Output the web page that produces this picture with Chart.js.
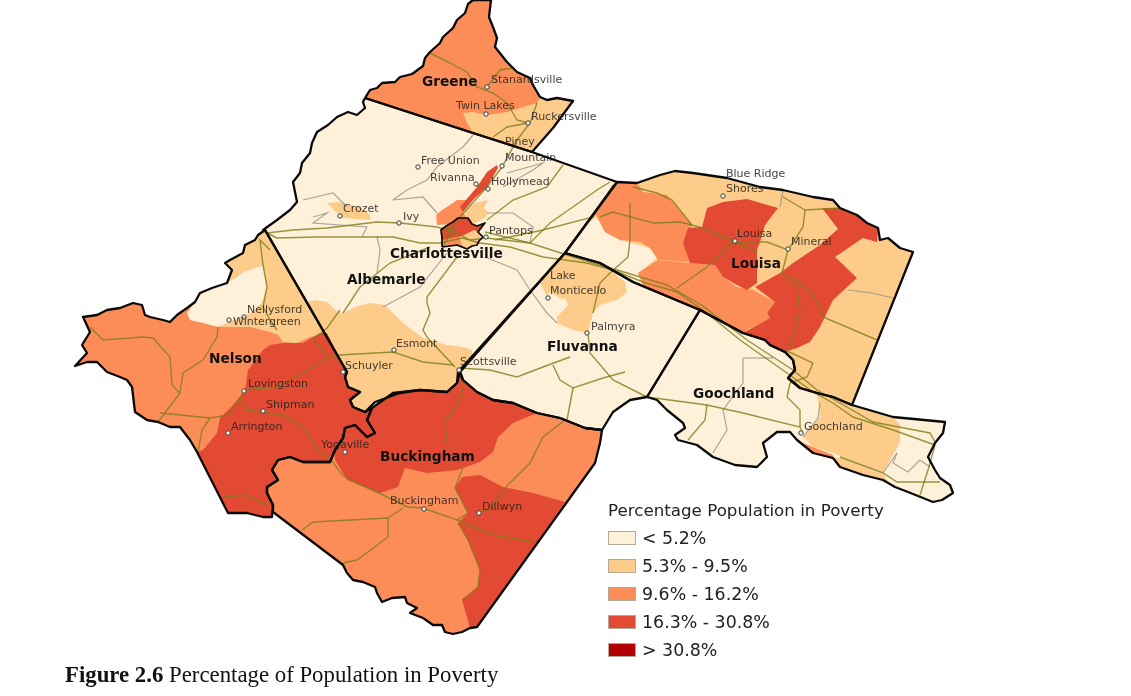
<!DOCTYPE html>
<html>
<head>
<meta charset="utf-8">
<title>Percentage of Population in Poverty</title>
<script src="https://cdn.jsdelivr.net/npm/chart.js@4"></script>
<style>
  html, body { margin: 0; padding: 0; background: #fff; overflow: hidden; }
  #wrap { position: relative; width: 1131px; height: 696px; }
  #mapCanvas { display: block; }
  #legend { position: absolute; left: 608px; top: 498px; font-family: "DejaVu Sans", sans-serif; color: #222; }
  #legend .title { font-size: 16.7px; height: 24px; line-height: 24px; white-space: nowrap; }
  #legend .row { position: absolute; left: 0; height: 14px; white-space: nowrap; }
  #legend .box { position: absolute; left: 0; top: 0; width: 26px; height: 12px; border: 1px solid #b5a99a; }
  #legend .txt { position: absolute; left: 34px; top: -5px; font-size: 17.4px; line-height: 24px; }
  #caption { position: absolute; left: 65px; top: 662px; font-family: "Liberation Serif", serif; font-size: 22.8px; color: #111; white-space: nowrap; }
</style>
</head>
<body>
<div id="wrap">
  <canvas id="mapCanvas" width="1131" height="696"></canvas>
  <div id="legend"></div>
  <div id="caption"><b>Figure 2.6</b> Percentage of Population in Poverty</div>
</div>
<script>
// poverty classes
const classLabels = ["< 5.2%", "5.3% - 9.5%", "9.6% - 16.2%", "16.3% - 30.8%", "> 30.8%"];
const classColors = ["#fef0d9", "#fdcc8a", "#fc8d59", "#e34a33", "#b30000"];

// shared county edges
const greeneWest = [[365,98],[370,90],[377,88],[382,83],[395,82],[400,77],[412,74],[423,66],[425,58],[430,52],[440,43],[443,37],[453,28],[457,20],[465,13],[468,4],[473,0]];
const greeneEast = [[491,0],[489,17],[493,27],[497,38],[495,47],[507,62],[517,72],[530,78],[533,85],[540,97],[547,100],[557,98],[573,101]];
const albemarleWest = [[263,230],[277,220],[290,210],[297,202],[295,192],[293,182],[300,173],[302,163],[310,153],[312,143],[317,132],[328,125],[337,117],[348,112],[357,115],[365,108],[363,102]];
const albemarleSouth = [[458,372],[457,383],[447,392],[420,390],[400,393],[375,402],[365,412],[353,407],[350,400],[360,392],[348,387],[345,377],[347,372]];
const nelsonWest = [[265,230],[258,235],[255,240],[245,245],[243,253],[230,260],[225,263],[232,270],[227,283],[212,288],[200,293],[195,302],[187,308],[177,315],[170,322],[163,320],[150,317],[145,315],[142,305],[133,303],[120,308],[107,310],[97,315],[83,317],[90,332],[82,345],[87,353],[75,366],[87,362],[97,362],[107,372],[120,377],[127,380],[132,387],[135,412],[147,420],[158,422],[170,427],[180,427],[190,440],[197,452]];
const nelsonRiver = [[372,408],[367,420],[375,433],[367,437],[355,425],[345,428],[343,438],[335,450],[330,462],[303,462],[290,457],[278,460],[272,470],[278,480],[267,487],[267,493],[273,505]];
const buckinghamNorth = [[460,372],[463,380],[477,392],[493,400],[513,403],[537,413],[560,418],[585,428],[602,430]];
const buckinghamSouth = [[477,627],[470,628],[462,632],[453,634],[445,632],[442,625],[433,625],[423,618],[410,613],[417,608],[407,603],[405,597],[392,598],[382,602],[377,593],[375,587],[363,582],[353,580],[347,573],[343,565]];
const louisaNorth = [[617,182],[637,183],[660,175],[675,171],[693,173],[727,178],[760,187],[783,190],[813,197],[833,200],[840,208],[857,215],[867,223],[878,228],[880,240],[888,238],[900,248],[913,252]];
const louisaSouth = [[852,405],[833,397],[817,393],[800,388],[788,378],[795,370],[793,360],[785,352],[770,345],[765,340],[743,333],[700,310]];
const goochlandSouth = [[647,397],[657,400],[667,410],[683,423],[685,428],[675,435],[678,440],[697,445],[713,457],[735,465],[757,467],[767,457],[763,443],[777,432],[790,432],[797,440],[813,453],[833,458],[840,467],[863,475],[883,480],[895,487],[908,492],[933,502],[942,500],[953,493],[950,485],[940,478],[935,470],[928,457],[935,443],[943,433],[945,422],[893,417]];

// county outlines
const greene = [...greeneWest, ...greeneEast, [553,128],[532,152],[473,133]];
const albemarle = [[365,98],[473,133],[532,152],[617,182],[565,253], ...albemarleSouth, [265,230], ...albemarleWest];
const nelson = [...nelsonWest, [228,513],[247,513],[263,517],[272,517], ...nelsonRiver.slice().reverse(), ...albemarleSouth.slice(6)];
const buckingham = [...buckinghamNorth, [600,443],[595,463], ...buckinghamSouth, [273,512], ...nelsonRiver.slice().reverse(), [393,393],[420,390],[447,392],[457,383]];
const fluvanna = [[565,253],[600,263],[633,282],[700,310],[647,397],[630,400],[613,412], ...buckinghamNorth.slice().reverse()];
const louisa = [...louisaNorth, ...louisaSouth, [633,282],[600,263],[565,253]];
const goochland = [[700,310], ...louisaSouth.slice().reverse(), ...goochlandSouth.slice().reverse(), [647,397]];
const charlottesville = [[442,247],[442,238],[441,230],[446,226],[453,222],[458,218],[468,218],[472,224],[477,226],[485,223],[481,228],[478,232],[483,237],[479,241],[477,245],[472,246],[467,249],[457,245],[450,246]];

// areas inside the counties, by class
const greeneLight = [[463,113],[473,112],[487,115],[507,112],[523,107],[537,103],[540,97],[547,100],[557,98],[573,101],[553,128],[532,152],[507,142],[473,133],[467,123]];
const crozetLight = [[327,203],[338,202],[360,207],[370,215],[370,220],[343,218],[337,213]];
const albemarleLight = [[307,302],[315,300],[327,302],[338,312],[343,313],[355,307],[370,303],[385,305],[403,323],[423,338],[447,345],[463,347],[472,350],[472,355],[460,369], ...albemarleSouth, [327,335]];
const hollymeadRed = [[497,165],[498,168],[487,187],[473,200],[463,212],[460,207],[477,187],[487,172]];
const northCityOrange = [[437,225],[436,215],[442,210],[450,205],[457,200],[473,200],[463,212],[470,223],[450,224]];
const northCityLight = [[468,208],[475,203],[488,200],[484,208],[488,212],[486,217],[478,222],[472,224],[463,213]];
const cityOrange = [[442,247],[442,238],[462,236],[462,245],[457,245],[450,246]];
const cityLight = [[460,236],[470,228],[478,232],[483,237],[479,241],[477,245],[472,246],[467,249],[461,245]];
const cityRed = [[441,230],[446,226],[453,222],[458,218],[468,218],[472,224],[474,230],[462,236],[442,240]];
const nelsonCream = [[187,313],[195,302],[200,293],[212,288],[227,283],[243,272],[263,265],[267,287],[262,303],[252,313],[243,316],[230,322],[218,327],[203,323],[190,320]];
const nelsonLight = [[265,230],[327,333],[310,337],[297,343],[283,342],[278,335],[270,332],[250,327],[218,327],[230,322],[243,316],[252,313],[262,303],[267,287],[263,265],[243,272],[227,283],[232,270],[225,263],[230,260],[243,253],[245,245],[255,240],[258,235]];
const nelsonRed = [[270,345],[283,343],[303,343],[320,333],[327,333], ...albemarleSouth.slice(6).reverse(), ...nelsonRiver, [272,517],[263,517],[247,513],[228,513],[197,452],[203,450],[217,433],[220,418],[233,405],[245,390],[248,370],[263,350]];
const buckinghamRed = [[335,460],[347,480],[380,493],[398,487],[405,468],[427,473],[457,470],[480,462],[493,452],[498,437],[513,423],[537,413],[513,403],[493,400],[477,392],[463,380],[460,372],[457,383],[447,392],[420,390],[393,393], ...nelsonRiver.slice(0,8)];
const dillwynRed = [[462,477],[480,475],[503,487],[533,493],[565,502],[477,627],[470,628],[462,600],[478,587],[480,570],[468,540],[458,523],[468,513],[455,488]];
const fluvannaLight = [[563,254],[607,267],[625,282],[627,292],[617,300],[600,305],[593,313],[588,333],[573,330],[557,323],[557,317],[568,305],[565,298],[550,303],[540,282],[550,267]];
const fluvannaHole = [[550,292],[560,298],[568,305],[557,317],[548,310],[545,298]];
const louisaOrangeTop = [[617,182],[637,183],[643,192],[667,195],[692,225],[683,243],[692,262],[658,260],[650,248],[640,242],[620,240],[605,232],[597,217],[594,212]];
const louisaOrangeLow = [[638,273],[658,260],[690,263],[715,265],[723,277],[737,287],[753,290],[775,302],[767,313],[770,318],[747,330],[743,333],[700,310],[643,285]];
const louisaCream = [[565,253],[586,224],[597,217],[605,232],[620,240],[650,248],[657,258],[638,273],[643,285],[633,282],[600,263]];
const louisaRedWest = [[707,208],[723,202],[747,199],[778,208],[765,225],[760,242],[757,250],[757,283],[747,290],[737,285],[723,277],[715,265],[690,263],[683,243],[688,228],[702,227]];
const louisaRedEast = [[822,208],[840,208],[857,215],[867,223],[878,228],[877,242],[863,238],[835,257],[857,278],[833,300],[820,327],[810,342],[797,348],[785,352],[770,345],[765,340],[743,333],[770,318],[767,313],[775,302],[755,287],[780,273],[793,263],[820,245],[838,229]];
const goochlandLight = [[817,393],[820,417],[803,437],[813,447],[833,453],[842,457],[883,473],[900,442],[900,425],[893,417],[852,405],[833,397]];
const goochlandStrip = [[833,458],[840,467],[863,475],[883,480],[890,485],[884,475],[842,458]];
const goochlandOrange = [[795,437],[803,443],[833,455],[835,460],[813,453],[797,440]];

// fill layers, bottom first: [outline, class index]
const fillLayers = [
  [greene, 2], [albemarle, 0], [nelson, 2], [buckingham, 2], [fluvanna, 0], [louisa, 1], [goochland, 0],
  [greeneLight, 1], [crozetLight, 1], [albemarleLight, 1], [northCityOrange, 2], [northCityLight, 1], [hollymeadRed, 3],
  [charlottesville, 3], [cityOrange, 2], [cityLight, 1], [cityRed, 3],
  [nelsonCream, 0], [nelsonLight, 1], [nelsonRed, 3], [buckinghamRed, 3], [dillwynRed, 3],
  [fluvannaLight, 1], [fluvannaHole, 0], [louisaCream, 0], [louisaOrangeTop, 2], [louisaOrangeLow, 2], [louisaRedWest, 3], [louisaRedEast, 3],
  [goochlandLight, 1], [goochlandStrip, 1], [goochlandOrange, 2]
];
const countyBorders = [greene, albemarle, nelson, buckingham, fluvanna, louisa, goochland];

// main roads
const roads = [
  [[267,233],[293,230],[327,228],[377,222],[400,223],[437,227],[455,232],[470,240],[486,238]],
  [[263,231],[277,238],[317,237],[357,237],[393,237],[420,243],[440,243],[462,238],[480,243]],
  [[446,230],[452,228],[454,234],[448,237],[445,234],[446,230]],
  [[480,243],[510,247],[543,257],[587,263],[613,270],[643,282],[677,292],[703,310],[740,340],[787,373],[813,392],[833,403],[853,417],[893,430],[935,445]],
  [[486,238],[530,243],[570,256],[617,270],[667,285],[703,306],[747,340],[793,370],[817,390],[840,403],[873,422],[930,433],[935,442]],
  [[443,247],[460,217],[487,187],[502,167],[517,140],[530,123],[537,103]],
  [[457,257],[427,297],[427,303],[430,313],[423,330],[427,337],[455,367]],
  [[430,53],[450,63],[467,72],[477,87],[493,93],[507,103],[517,120],[528,123]],
  [[487,87],[500,70],[513,68]],
  [[528,123],[507,127],[493,137]],
  [[487,220],[513,200],[547,187],[563,165]],
  [[485,232],[530,243],[550,223],[597,190],[610,182]],
  [[495,240],[543,230],[593,217],[613,185]],
  [[343,313],[360,287],[390,263],[430,247]],
  [[460,368],[490,370],[517,377],[543,367],[570,357]],
  [[553,365],[560,380],[573,388],[603,378],[625,372]],
  [[573,388],[567,420]],
  [[588,333],[590,353],[613,380],[647,397]],
  [[630,203],[630,240],[628,257],[610,273],[600,283],[593,313]],
  [[600,217],[613,212],[653,223],[680,222],[703,228],[735,242],[757,252]],
  [[633,187],[657,193],[672,200],[692,225]],
  [[677,288],[707,267],[733,242],[767,242],[788,250],[803,227],[805,210],[783,197]],
  [[805,210],[840,208]],
  [[788,250],[782,273],[797,287],[800,313],[790,347]],
  [[792,277],[813,295],[823,317],[877,340]],
  [[647,397],[707,405],[743,413],[800,427],[803,433]],
  [[707,405],[705,420],[688,440]],
  [[787,397],[800,410],[800,427]],
  [[790,383],[787,397]],
  [[785,350],[813,363],[807,377],[790,383]],
  [[840,457],[883,473],[897,482],[940,482]],
  [[935,445],[928,470],[920,495]],
  [[90,327],[103,340],[143,337],[153,338],[170,357],[172,385],[180,393],[158,422]],
  [[180,393],[183,373],[203,360],[217,337],[218,327]],
  [[160,413],[210,418],[228,415],[240,398],[245,390]],
  [[210,418],[202,430],[198,452]],
  [[240,398],[247,410],[283,415],[303,427],[318,450],[333,462],[342,475],[357,483],[383,495],[407,507],[423,508],[457,520],[468,513]],
  [[457,520],[493,535],[533,542]],
  [[245,390],[277,387],[303,373],[330,357],[340,355],[393,352],[423,362],[453,365]],
  [[313,340],[327,355]],
  [[340,310],[327,328],[313,340]],
  [[277,330],[270,320],[263,307],[267,287],[263,265],[260,240],[270,250]],
  [[463,387],[458,403],[445,422],[448,450]],
  [[463,467],[455,488],[468,513]],
  [[565,420],[543,437],[530,463],[505,488],[493,507],[480,512]],
  [[403,508],[388,518],[313,522],[302,530]],
  [[388,518],[388,537],[357,560],[343,563]],
  [[458,523],[468,540],[480,570],[478,587],[462,600]],
  [[223,497],[247,495],[267,505]]
];
// secondary roads
const greyRoads = [
  [[473,135],[463,147],[437,167],[427,180],[407,190],[393,200]],
  [[303,200],[333,193],[347,207]],
  [[393,200],[423,197],[437,213]],
  [[313,217],[327,213],[313,223],[367,227],[362,237]],
  [[507,173],[543,163],[533,170],[503,187]],
  [[487,213],[513,213],[533,227],[530,243]],
  [[377,273],[380,250],[377,237]],
  [[383,307],[420,287],[447,253]],
  [[485,257],[517,270],[530,290],[547,313],[557,323]],
  [[743,358],[773,358]],
  [[743,358],[743,383],[723,410],[727,430],[713,453]],
  [[848,290],[872,293],[893,298]],
  [[783,190],[780,207]],
  [[820,403],[818,418],[803,437]],
  [[897,453],[893,463],[908,472],[920,460],[930,467]],
  [[883,473],[897,453]]
];

// places
const placeNames = ["Stanardsville","Twin Lakes","Ruckersville","Piney","Mountain","Free Union","Rivanna","Hollymead","Crozet","Ivy","Pantops","Blue Ridge","Shores","Louisa","Mineral","Lake","Monticello","Palmyra","Esmont","Schuyler","Scottsville","Nellysford","Wintergreen","Lovingston","Shipman","Arrington","Yogaville","Buckingham","Dillwyn","Goochland"];
const placeLabelX = [491,456,531,505,505,421,430,491,343,403,489,726,726,737,791,550,550,591,396,345,460,247,233,248,266,231,321,390,482,804];
const placeLabelY = [80,106,117,142,158,161,178,182,209,217,231,174,189,234,242,276,291,327,344,366,362,310,322,384,405,427,445,501,507,427];
const markers = [[487,87],[486,114],[528,123],[502,166],[418,167],[476,184],[488,189],[340,216],[399,223],[486,237],[723,196],[735,241],[788,249],[548,298],[587,333],[394,350],[343,372],[459,370],[244,317],[229,320],[244,391],[263,411],[228,433],[345,452],[424,509],[479,513],[801,433]];

const countyNames = ["Greene","Charlottesville","Albemarle","Nelson","Fluvanna","Goochland","Louisa","Buckingham"];
const countyLabelX = [422,390,347,209,547,693,731,380];
const countyLabelY = [82,254,280,359,347,394,264,457];

function toPoints(list) {
  return list.map(p => ({ x: p[0], y: p[1] }));
}

const datasets = [];
fillLayers.forEach(layer => {
  datasets.push({
    data: toPoints(layer[0]),
    showLine: true,
    fill: "shape",
    backgroundColor: classColors[layer[1]],
    borderWidth: 0,
    borderColor: "rgba(0,0,0,0)",
    pointRadius: 0
  });
});
greyRoads.forEach(r => {
  datasets.push({ data: toPoints(r), showLine: true, borderColor: "rgba(150,146,135,0.8)", borderWidth: 1.2, pointRadius: 0 });
});
roads.forEach(r => {
  datasets.push({ data: toPoints(r), showLine: true, borderColor: "rgba(125,125,25,0.8)", borderWidth: 1.4, pointRadius: 0 });
});
countyBorders.forEach(c => {
  datasets.push({ data: toPoints(c.concat([c[0]])), showLine: true, borderColor: "#0a0a0a", borderWidth: 2.3, borderJoinStyle: "round", pointRadius: 0 });
});
datasets.push({ data: toPoints(charlottesville.concat([charlottesville[0]])), showLine: true, borderColor: "#0a0a0a", borderWidth: 1.7, borderJoinStyle: "round", pointRadius: 0 });
datasets.push({
  data: toPoints(markers),
  showLine: false,
  pointRadius: 2.2,
  pointBackgroundColor: "#f4f2e8",
  pointBorderColor: "#33413f",
  pointBorderWidth: 1
});
// first dataset has to end up at the bottom
datasets.forEach((d, i) => { d.order = datasets.length - i; });

const mapLabels = {
  id: "mapLabels",
  afterDatasetsDraw(chart) {
    const { ctx, scales } = chart;
    ctx.save();
    ctx.textBaseline = "middle";
    ctx.font = "11px 'DejaVu Sans'";
    ctx.fillStyle = "rgba(35,35,30,0.85)";
    placeNames.forEach((name, i) => {
      ctx.fillText(name, scales.x.getPixelForValue(placeLabelX[i]), scales.y.getPixelForValue(placeLabelY[i]));
    });
    ctx.font = "bold 13.7px 'DejaVu Sans'";
    ctx.fillStyle = "#111";
    countyNames.forEach((name, i) => {
      ctx.fillText(name, scales.x.getPixelForValue(countyLabelX[i]), scales.y.getPixelForValue(countyLabelY[i]));
    });
    ctx.restore();
  }
};

new Chart(document.getElementById("mapCanvas").getContext("2d"), {
  type: "scatter",
  data: { datasets: datasets },
  plugins: [mapLabels],
  options: {
    responsive: false,
    animation: false,
    layout: { padding: 0, autoPadding: false },
    elements: { line: { tension: 0 } },
    plugins: { legend: { display: false }, tooltip: { enabled: false }, filler: { propagate: false } },
    scales: {
      x: { type: "linear", min: 0, max: 1131, display: false },
      y: { type: "linear", min: 0, max: 696, reverse: true, display: false }
    }
  }
});

// legend
const legendEl = document.getElementById("legend");
legendEl.innerHTML = '<div class="title">Percentage Population in Poverty</div>';
classLabels.forEach((label, i) => {
  const row = document.createElement("div");
  row.className = "row";
  row.style.top = (33 + i * 28) + "px";
  const box = document.createElement("div");
  box.className = "box";
  box.style.background = classColors[i];
  const txt = document.createElement("div");
  txt.className = "txt";
  txt.textContent = label;
  row.appendChild(box);
  row.appendChild(txt);
  legendEl.appendChild(row);
});
</script>
</body>
</html>
